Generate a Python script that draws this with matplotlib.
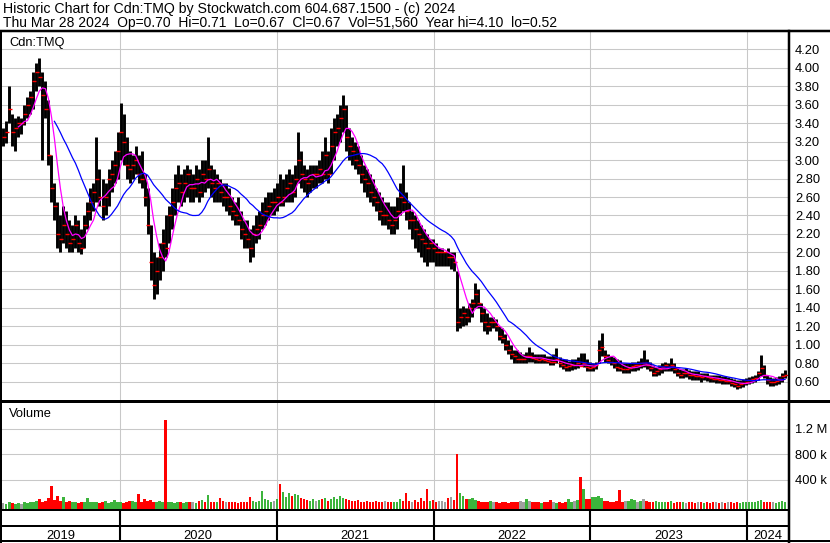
import matplotlib
matplotlib.use('Agg')
import matplotlib.pyplot as plt
from matplotlib.lines import Line2D
import numpy as np
import pandas as pd

plt.rcParams['font.family'] = ['Liberation Sans', 'DejaVu Sans']

# weekly bars, Apr 2019 - Mar 2024
high = [
    3.35, 3.42, 3.80, 3.50, 3.45, 3.48, 3.45, 3.60, 3.68, 3.75,
    3.95, 4.05, 4.10, 3.95, 3.85, 3.65, 3.05, 2.75, 2.55, 2.40,
    2.50, 2.45, 2.35, 2.30, 2.40, 2.35, 2.25, 2.40, 2.55, 2.70,
    2.75, 3.25, 2.90, 2.80, 2.75, 2.90, 3.00, 3.10, 3.30, 3.62,
    3.50, 3.25, 3.10, 3.05, 3.15, 3.05, 3.10, 2.85, 2.70, 2.30,
    2.00, 1.95, 2.10, 2.25, 2.40, 2.50, 2.70, 2.85, 2.95, 2.85,
    2.90, 2.95, 2.90, 2.85, 2.95, 2.90, 3.00, 3.00, 3.25, 2.95,
    2.90, 2.85, 2.80, 2.75, 2.75, 2.70, 2.60, 2.55, 2.60, 2.45,
    2.35, 2.35, 2.25, 2.30, 2.40, 2.45, 2.55, 2.60, 2.65, 2.65,
    2.70, 2.75, 2.85, 2.80, 2.85, 2.90, 2.85, 2.95, 3.30, 3.10,
    2.95, 2.90, 2.95, 2.95, 2.95, 3.00, 3.10, 3.25, 3.10, 3.35,
    3.45, 3.50, 3.60, 3.70, 3.60, 3.35, 3.25, 3.20, 3.15, 3.05,
    2.95, 2.90, 2.85, 2.80, 2.70, 2.65, 2.60, 2.55, 2.55, 2.50,
    2.50, 2.60, 2.75, 2.95, 2.65, 2.55, 2.45, 2.40, 2.35, 2.30,
    2.25, 2.20, 2.15, 2.15, 2.10, 2.05, 2.05, 2.00, 2.05, 2.00,
    2.00, 1.80, 1.40, 1.42, 1.40, 1.45, 1.50, 1.67, 1.60, 1.45,
    1.40, 1.35, 1.30, 1.30, 1.28, 1.20, 1.18, 1.12, 1.05, 1.00,
    0.95, 0.95, 0.92, 0.90, 0.92, 0.98, 0.92, 0.90, 0.90, 0.90,
    0.90, 0.88, 0.88, 0.90, 0.97, 0.87, 0.85, 0.85, 0.83, 0.85,
    0.85, 0.87, 0.91, 0.91, 0.85, 0.82, 0.80, 0.82, 1.05, 1.13,
    0.95, 0.90, 0.88, 0.87, 0.85, 0.84, 0.80, 0.80, 0.80, 0.82,
    0.82, 0.83, 0.86, 0.95, 0.85, 0.82, 0.78, 0.76, 0.78, 0.80,
    0.82, 0.80, 0.86, 0.80, 0.76, 0.74, 0.74, 0.75, 0.73, 0.72,
    0.72, 0.72, 0.70, 0.70, 0.70, 0.68, 0.68, 0.68, 0.67, 0.66,
    0.66, 0.65, 0.64, 0.63, 0.62, 0.62, 0.63, 0.64, 0.65, 0.66,
    0.67, 0.72, 0.89, 0.78, 0.68, 0.65, 0.64, 0.65, 0.66, 0.70, 0.73,
]
low = [
    3.15, 3.18, 3.40, 3.15, 3.10, 3.25, 3.28, 3.38, 3.45, 3.50,
    3.55, 3.75, 3.80, 3.00, 3.45, 2.95, 2.55, 2.35, 2.05, 2.00,
    2.10, 2.05, 2.00, 2.00, 2.05, 2.00, 1.98, 2.05, 2.25, 2.35,
    2.45, 2.55, 2.50, 2.35, 2.40, 2.50, 2.65, 2.75, 2.80, 3.00,
    2.95, 2.80, 2.75, 2.80, 2.85, 2.75, 2.70, 2.50, 2.20, 1.70,
    1.50, 1.55, 1.70, 1.80, 1.95, 2.10, 2.25, 2.40, 2.55, 2.50,
    2.55, 2.60, 2.55, 2.55, 2.60, 2.55, 2.60, 2.65, 2.70, 2.60,
    2.55, 2.55, 2.55, 2.50, 2.45, 2.40, 2.35, 2.30, 2.30, 2.15,
    2.05, 2.05, 1.90, 1.95, 2.10, 2.15, 2.25, 2.30, 2.35, 2.40,
    2.40, 2.45, 2.50, 2.50, 2.55, 2.55, 2.55, 2.60, 2.75, 2.70,
    2.65, 2.60, 2.65, 2.70, 2.70, 2.75, 2.75, 2.80, 2.75, 2.85,
    3.00, 3.15, 3.20, 3.30, 3.10, 3.00, 2.95, 2.90, 2.85, 2.75,
    2.65, 2.60, 2.55, 2.50, 2.45, 2.35, 2.30, 2.30, 2.25, 2.20,
    2.20, 2.25, 2.40, 2.45, 2.35, 2.25, 2.15, 2.05, 2.00, 1.95,
    1.90, 1.85, 1.90, 1.90, 1.85, 1.85, 1.85, 1.85, 1.85, 1.82,
    1.80, 1.15, 1.18, 1.20, 1.22, 1.25, 1.30, 1.40, 1.40, 1.25,
    1.15, 1.12, 1.15, 1.18, 1.15, 1.05, 1.02, 0.95, 0.90, 0.85,
    0.80, 0.80, 0.80, 0.80, 0.80, 0.82, 0.82, 0.80, 0.80, 0.80,
    0.80, 0.80, 0.78, 0.78, 0.80, 0.76, 0.74, 0.72, 0.72, 0.73,
    0.74, 0.75, 0.77, 0.76, 0.72, 0.72, 0.72, 0.74, 0.80, 0.88,
    0.82, 0.80, 0.78, 0.75, 0.72, 0.72, 0.70, 0.70, 0.70, 0.72,
    0.72, 0.73, 0.75, 0.76, 0.74, 0.72, 0.66, 0.66, 0.68, 0.70,
    0.72, 0.72, 0.72, 0.70, 0.66, 0.64, 0.64, 0.65, 0.63, 0.62,
    0.62, 0.62, 0.60, 0.62, 0.61, 0.60, 0.60, 0.59, 0.59, 0.58,
    0.58, 0.58, 0.56, 0.55, 0.52, 0.54, 0.55, 0.57, 0.58, 0.59,
    0.60, 0.62, 0.66, 0.64, 0.58, 0.56, 0.56, 0.57, 0.58, 0.60, 0.64,
]
close = [
    3.25, 3.30, 3.55, 3.30, 3.35, 3.40, 3.40, 3.50, 3.60, 3.68,
    3.85, 3.95, 3.90, 3.70, 3.55, 3.05, 2.70, 2.50, 2.20, 2.15,
    2.30, 2.20, 2.10, 2.15, 2.30, 2.10, 2.05, 2.30, 2.45, 2.55,
    2.65, 2.80, 2.60, 2.50, 2.60, 2.80, 2.85, 2.95, 3.10, 3.30,
    3.20, 2.95, 2.90, 2.95, 3.00, 2.85, 2.80, 2.60, 2.30, 1.90,
    1.65, 1.80, 1.95, 2.10, 2.05, 2.40, 2.55, 2.70, 2.75, 2.65,
    2.75, 2.85, 2.70, 2.70, 2.80, 2.65, 2.85, 2.80, 2.90, 2.75,
    2.70, 2.75, 2.65, 2.60, 2.60, 2.50, 2.45, 2.40, 2.35, 2.25,
    2.20, 2.15, 2.05, 2.20, 2.25, 2.30, 2.40, 2.45, 2.50, 2.55,
    2.55, 2.60, 2.55, 2.60, 2.70, 2.75, 2.65, 2.80, 3.00, 2.85,
    2.80, 2.75, 2.80, 2.85, 2.85, 2.90, 2.85, 3.05, 2.85, 3.15,
    3.30, 3.35, 3.45, 3.55, 3.25, 3.15, 3.10, 3.00, 2.95, 2.85,
    2.80, 2.75, 2.65, 2.60, 2.55, 2.45, 2.40, 2.40, 2.35, 2.30,
    2.35, 2.45, 2.60, 2.55, 2.45, 2.35, 2.35, 2.25, 2.20, 2.15,
    2.10, 2.05, 2.10, 2.05, 2.00, 2.00, 2.00, 2.00, 1.95, 1.95,
    1.90, 1.25, 1.30, 1.35, 1.30, 1.40, 1.45, 1.55, 1.45, 1.35,
    1.25, 1.20, 1.25, 1.25, 1.20, 1.10, 1.08, 1.00, 0.95, 0.90,
    0.88, 0.85, 0.85, 0.85, 0.88, 0.88, 0.86, 0.85, 0.84, 0.85,
    0.84, 0.83, 0.82, 0.82, 0.85, 0.80, 0.78, 0.76, 0.77, 0.78,
    0.78, 0.80, 0.77, 0.80, 0.76, 0.75, 0.76, 0.78, 0.95, 0.98,
    0.88, 0.84, 0.82, 0.80, 0.76, 0.75, 0.74, 0.74, 0.75, 0.77,
    0.78, 0.78, 0.80, 0.80, 0.78, 0.75, 0.70, 0.72, 0.74, 0.76,
    0.78, 0.76, 0.78, 0.74, 0.70, 0.68, 0.70, 0.70, 0.68, 0.67,
    0.66, 0.66, 0.65, 0.66, 0.65, 0.64, 0.63, 0.63, 0.62, 0.62,
    0.61, 0.61, 0.59, 0.58, 0.56, 0.58, 0.59, 0.60, 0.62, 0.63,
    0.64, 0.70, 0.75, 0.68, 0.62, 0.60, 0.60, 0.61, 0.63, 0.66, 0.67,
]
# volume in thousands of shares
volume_k = [
    40, 30, 60, 35, 25, 45, 30, 50, 40, 60,
    50, 70, 110, 60, 80, 120, 300, 90, 150, 80,
    140, 60, 70, 50, 60, 40, 50, 60, 120, 50,
    60, 50, 45, 60, 70, 40, 50, 90, 60, 50,
    40, 60, 70, 80, 50, 180, 60, 100, 80, 90,
    60, 50, 70, 60, 1330, 50, 60, 40, 50, 60,
    45, 50, 60, 50, 40, 70, 90, 60, 170, 60,
    50, 60, 120, 70, 50, 60, 50, 60, 40, 50,
    50, 60, 140, 70, 60, 80, 230, 100, 90, 60,
    80, 100, 330, 220, 130, 190, 150, 180, 170, 120,
    100, 90, 80, 110, 70, 90, 110, 120, 80, 100,
    130, 110, 150, 120, 100, 90, 80, 70, 90, 60,
    60, 70, 50, 60, 80, 60, 50, 70, 60, 50,
    60, 60, 110, 80, 200, 70, 60, 90, 60, 120,
    80, 260, 70, 90, 60, 70, 80, 60, 120, 130,
    90, 800, 190, 150, 110, 100, 120, 90, 70, 60,
    60, 50, 70, 50, 60, 40, 50, 60, 40, 50,
    50, 60, 70, 50, 110, 80, 50, 60, 50, 40,
    60, 50, 90, 60, 40, 50, 40, 60, 100, 60,
    80, 90, 450, 260, 110, 100, 130, 140, 150, 120,
    80, 70, 60, 60, 80, 250, 60, 70, 80, 100,
    90, 60, 70, 100, 80, 60, 50, 70, 60, 50,
    60, 50, 70, 40, 50, 60, 50, 40, 60, 50,
    40, 50, 60, 40, 50, 40, 50, 60, 40, 50,
    40, 50, 60, 40, 50, 40, 60, 50, 50, 60,
    50, 70, 90, 60, 50, 60, 50, 40, 60, 70, 60,
]

years = ['2019', '2020', '2021', '2022', '2023', '2024']
price_ticks = [0.60, 0.80, 1.00, 1.20, 1.40, 1.60, 1.80, 2.00, 2.20, 2.40,
               2.60, 2.80, 3.00, 3.20, 3.40, 3.60, 3.80, 4.00, 4.20]
vol_ticks = [400e3, 800e3, 1.2e6]
vol_labels = ['400 k', '800 k', '1.2 M']

title1 = 'Historic Chart for Cdn:TMQ by Stockwatch.com 604.687.1500 - (c) 2024'
title2 = ('Thu Mar 28 2024  Op=0.70  Hi=0.71  Lo=0.67  Cl=0.67  '
          'Vol=51,560  Year hi=4.10  lo=0.52')

weeks = pd.date_range('2019-04-05', periods=len(close), freq='W-FRI')
ma_short = pd.Series(close).rolling(6).mean()
ma_long = pd.Series(close).rolling(18).mean()
chg = np.diff(close, prepend=close[0])
vcol = np.where(chg > 0, '#3cb43c', np.where(chg < 0, '#ff0000', '#a0a0a0'))
vol = np.array(volume_k) * 1000

W, H = 830, 543
def box(l, t, r, b):
    return [l / W, 1 - b / H, (r - l) / W, (b - t) / H]

xlim = (pd.Timestamp('2019-04-02'), pd.Timestamp('2024-04-05'))
bounds = [pd.Timestamp(f'{y}-01-01') for y in years[1:]]
grid_c = '#c8c8c8'

fig = plt.figure(figsize=(8.3, 5.43), dpi=100)

# price panel
ax = fig.add_axes(box(2, 31, 788, 400))
ax.vlines(weeks, low, high, color='black', lw=2.1, zorder=2)
ax.plot(weeks + pd.Timedelta(days=2), close, ls='none', marker='_', ms=2.2,
        mew=1.0, color='red', zorder=3)
ax.plot(weeks, ma_short, color='#ff00ff', lw=0.9, zorder=4)
ax.plot(weeks, ma_long, color='#0000ff', lw=0.9, zorder=4)
ax.set_xlim(xlim)
ax.set_ylim(0.405, 4.395)
ax.set_xticks(bounds)
ax.set_yticks(price_ticks)
ax.set_yticklabels([f'{p:.2f}' for p in price_ticks])
ax.yaxis.tick_right()
ax.tick_params(length=0, labelbottom=False, labelsize=9.3, pad=5)
ax.grid(color=grid_c, lw=0.75)
ax.set_axisbelow(True)
for s in ax.spines.values():
    s.set_visible(False)

# volume panel
vmin = -52e3
axv = fig.add_axes(box(2, 403, 788, 509))
axv.bar(weeks, vol - vmin, bottom=vmin, width=5.6, color=vcol, zorder=2)
axv.set_xlim(xlim)
axv.set_ylim(vmin, 1.6e6)
axv.set_xticks(bounds)
axv.set_yticks(vol_ticks)
axv.set_yticklabels(vol_labels)
axv.yaxis.tick_right()
axv.tick_params(length=0, labelbottom=False, labelsize=9.3, pad=5)
axv.grid(color=grid_c, lw=0.75)
axv.set_axisbelow(True)
for s in axv.spines.values():
    s.set_visible(False)

# year band
axy = fig.add_axes(box(2, 510, 788, 541))
axy.set_xlim(xlim)
axy.set_ylim(0, 1)
axy.axis('off')
edges = [xlim[0]] + bounds + [xlim[1]]
for i, y in enumerate(years):
    mid = edges[i] + (edges[i + 1] - edges[i]) / 2
    axy.text(mid, 0.06, y, ha='center', va='baseline', fontsize=9.3)
axy.vlines(bounds, 0, 1, color='black', lw=1.5)

# frame lines in pixels
def hline(y, x0, x1, w):
    fig.add_artist(Line2D([x0 / W, x1 / W], [1 - y / H] * 2, color='black',
                          lw=w * 0.72, transform=fig.transFigure))
def vline(x, y0, y1, w):
    fig.add_artist(Line2D([x / W] * 2, [1 - y0 / H, 1 - y1 / H], color='black',
                          lw=w * 0.72, transform=fig.transFigure))

hline(31, 0, 830, 2.5)
hline(400, 0, 830, 1)
hline(402, 0, 830, 2)
hline(510, 0, 789, 2)
hline(526, 0, 789, 2)
hline(541, 0, 830, 2)
vline(1, 31, 542, 2)
vline(789, 31, 542, 2.5)

fig.text(3 / W, 1 - 12.5 / H, title1, fontsize=10.2, va='baseline')
fig.text(3 / W, 1 - 26.5 / H, title2, fontsize=10, va='baseline')
fig.text(9 / W, 1 - 46 / H, 'Cdn:TMQ', fontsize=9.3, va='baseline')
fig.text(9 / W, 1 - 417 / H, 'Volume', fontsize=9.3, va='baseline')

fig.savefig('out.png', dpi=100)
